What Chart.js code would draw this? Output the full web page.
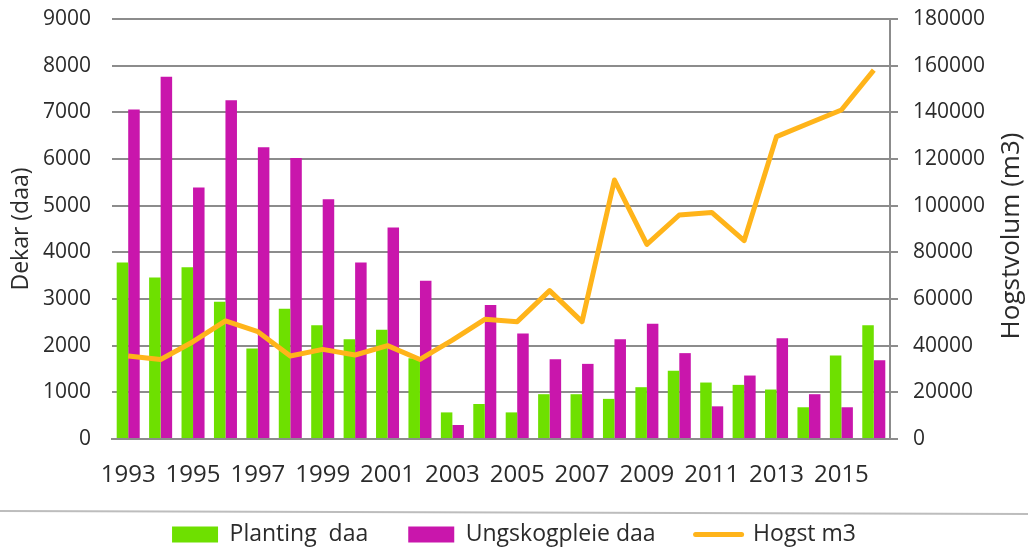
<!DOCTYPE html>
<html>
<head>
<meta charset="utf-8">
<script src="https://cdn.jsdelivr.net/npm/chart.js@4/dist/chart.umd.min.js"></script>
<style>
  html, body { margin: 0; padding: 0; background: #fff; }
  #wrap { width: 1028px; height: 548px; position: relative; }
</style>
</head>
<body>
<div id="wrap"><canvas id="chart" width="1028" height="548"></canvas></div>
<script>
const years = ['1993', '1994', '1995', '1996', '1997', '1998', '1999', '2000', '2001', '2002', '2003', '2004',
  '2005', '2006', '2007', '2008', '2009', '2010', '2011', '2012', '2013', '2014', '2015', '2016'];
const planting = [3780, 3460, 3680, 2940, 1940, 2790, 2440, 2140, 2340, 1730, 570, 750,
  570, 960, 960, 860, 1110, 1460, 1210, 1160, 1060, 680, 1790, 2440];
const ungskogpleie = [7060, 7760, 5390, 7260, 6250, 6020, 5140, 3780, 4530, 3390, 300, 2870,
  2260, 1710, 1610, 2140, 2470, 1840, 700, 1360, 2160, 960, 680, 1690];
const hogst = [35600, 34100, 41700, 50600, 46000, 35600, 38400, 36000, 40000, 34100, 42400, 51300,
  50300, 63600, 50300, 111000, 83400, 96000, 97100, 85000, 129600, 135300, 141000, 158100];

const FONT = "'Open Sans', sans-serif";
const TEXT = '#2b2b2b';
const GRID = '#8c8c8c';

// y scales: fixed width, no extra top/bottom padding from the tick labels
const fixY = width => scale => {
  scale.width = width;
  scale.paddingTop = 0;
  scale.paddingBottom = 0;
};

// separator line above the legend + right-hand title reading bottom-to-top
const extras = {
  id: 'extras',
  afterInit(chart) {
    // keep the wide gaps between legend items without the tall legend box
    const legend = chart.legend;
    const fit = legend.fit;
    legend.fit = function () {
      fit.call(this);
      this.height = 65;
    };
  },
  afterDraw(chart) {
    const { ctx, chartArea } = chart;
    ctx.save();
    ctx.strokeStyle = '#bdbdbd';
    ctx.lineWidth = 2;
    ctx.beginPath();
    ctx.moveTo(0, 511);
    ctx.lineTo(chart.width, 514);
    ctx.stroke();

    ctx.translate(1012, (chartArea.top + chartArea.bottom) / 2 + 7);
    ctx.rotate(-Math.PI / 2);
    ctx.fillStyle = TEXT;
    ctx.font = `26px ${FONT}`;
    ctx.textAlign = 'center';
    ctx.textBaseline = 'middle';
    ctx.fillText('Hogstvolum (m3)', 0, 0);
    ctx.restore();
  }
};

new Chart(document.getElementById('chart'), {
  type: 'bar',
  data: {
    labels: years,
    datasets: [
      {
        label: 'Planting  daa',
        data: planting,
        backgroundColor: '#6ee000',
        yAxisID: 'y',
        order: 1,
        categoryPercentage: 0.71,
        barPercentage: 1,
      },
      {
        label: 'Ungskogpleie daa',
        data: ungskogpleie,
        backgroundColor: '#c916ac',
        yAxisID: 'y',
        order: 1,
        categoryPercentage: 0.71,
        barPercentage: 1,
      },
      {
        type: 'line',
        label: 'Hogst m3',
        data: hogst,
        borderColor: '#ffb41a',
        backgroundColor: '#ffb41a',
        borderWidth: 5,
        pointRadius: 0,
        tension: 0,
        borderJoinStyle: 'round',
        yAxisID: 'y1',
        order: 0,
      },
    ],
  },
  options: {
    responsive: false,
    animation: false,
    layout: { padding: { top: 19, right: 0, bottom: 0, left: 0 } },
    plugins: {
      tooltip: { enabled: false },
      legend: {
        position: 'bottom',
        labels: {
          color: TEXT,
          font: { family: FONT, size: 23 },
          usePointStyle: true,
          pointStyleWidth: 46,
          boxHeight: 16,
          padding: 40,
          generateLabels(chart) {
            const items = Chart.defaults.plugins.legend.labels.generateLabels(chart);
            items.sort((a, b) => a.datasetIndex - b.datasetIndex);
            items.forEach(it => {
              const isLine = it.datasetIndex === 2;
              it.pointStyle = isLine ? 'line' : 'rect';
              it.lineWidth = isLine ? 5 : 0;
              it.lineCap = 'round';
            });
            return items;
          },
        },
      },
    },
    scales: {
      x: {
        offset: true,
        grid: { display: false, drawTicks: false },
        border: { display: true, color: GRID, width: 2 },
        ticks: {
          autoSkip: false,
          maxRotation: 0,
          padding: 22,
          color: TEXT,
          font: { family: FONT, size: 24 },
          callback(v, i) { return i % 2 === 0 ? years[i] : ''; },
        },
        afterFit(scale) { scale.height = 44; },
      },
      y: {
        position: 'left',
        min: 0,
        max: 9000,
        ticks: {
          stepSize: 1000, padding: 21, color: TEXT, font: { family: FONT, size: 21 },
          callback: v => String(v),
        },
        grid: { color: GRID, lineWidth: 2, drawTicks: false },
        border: { display: false },
        title: {
          display: true,
          text: 'Dekar (daa)',
          color: TEXT,
          font: { family: FONT, size: 23 },
          padding: { top: 8, bottom: 0 },
        },
        afterFit: fixY(112),
      },
      y1: {
        position: 'right',
        min: 0,
        max: 180000,
        ticks: {
          stepSize: 20000, padding: 15, color: TEXT, font: { family: FONT, size: 21 },
          callback: v => String(v),
        },
        grid: { drawOnChartArea: false, color: GRID, lineWidth: 2, tickLength: 8 },
        border: { display: true, color: GRID, width: 2 },
        afterFit: fixY(138),
      },
    },
  },
  plugins: [extras],
});
</script>
</body>
</html>
